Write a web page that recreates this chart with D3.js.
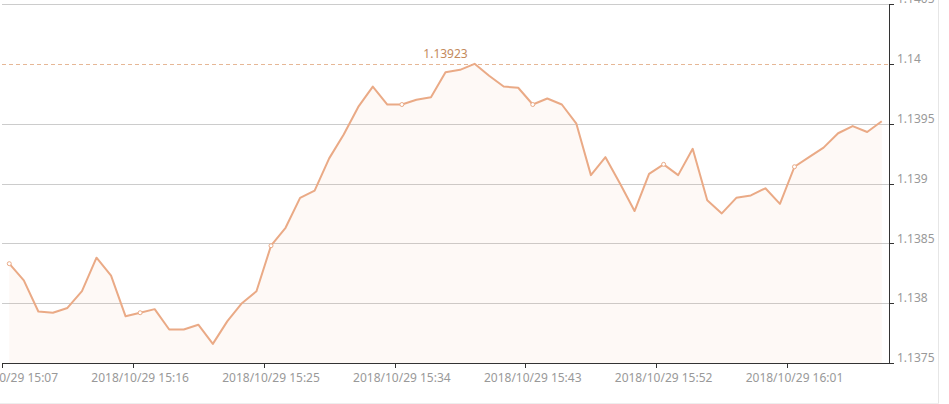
<!DOCTYPE html>
<html>
<head>
<meta charset="utf-8">
<script src="https://cdn.jsdelivr.net/npm/d3@7/dist/d3.min.js"></script>
<style>
  html, body { margin: 0; padding: 0; background: #fff; }
  svg { display: block; font-family: "Noto Sans", sans-serif; }
</style>
</head>
<body>
<svg id="chart" width="949" height="404"></svg>
<script>
const categories = [
  "2018/10/29 15:07","2018/10/29 15:08","2018/10/29 15:09","2018/10/29 15:10","2018/10/29 15:11",
  "2018/10/29 15:12","2018/10/29 15:13","2018/10/29 15:14","2018/10/29 15:15","2018/10/29 15:16",
  "2018/10/29 15:17","2018/10/29 15:18","2018/10/29 15:19","2018/10/29 15:20","2018/10/29 15:21",
  "2018/10/29 15:22","2018/10/29 15:23","2018/10/29 15:24","2018/10/29 15:25","2018/10/29 15:26",
  "2018/10/29 15:27","2018/10/29 15:28","2018/10/29 15:29","2018/10/29 15:30","2018/10/29 15:31",
  "2018/10/29 15:32","2018/10/29 15:33","2018/10/29 15:34","2018/10/29 15:35","2018/10/29 15:36",
  "2018/10/29 15:37","2018/10/29 15:38","2018/10/29 15:39","2018/10/29 15:40","2018/10/29 15:41",
  "2018/10/29 15:42","2018/10/29 15:43","2018/10/29 15:44","2018/10/29 15:45","2018/10/29 15:46",
  "2018/10/29 15:47","2018/10/29 15:48","2018/10/29 15:49","2018/10/29 15:50","2018/10/29 15:51",
  "2018/10/29 15:52","2018/10/29 15:53","2018/10/29 15:54","2018/10/29 15:55","2018/10/29 15:56",
  "2018/10/29 15:57","2018/10/29 15:58","2018/10/29 15:59","2018/10/29 16:00","2018/10/29 16:01",
  "2018/10/29 16:02","2018/10/29 16:03","2018/10/29 16:04","2018/10/29 16:05","2018/10/29 16:06",
  "2018/10/29 16:07"
];
const values = [
  1.13833, 1.13819, 1.13793, 1.13792, 1.13796, 1.13810, 1.13838, 1.13823, 1.13789, 1.13792,
  1.13795, 1.13778, 1.13778, 1.13782, 1.13766, 1.13785, 1.13800, 1.13810, 1.13848, 1.13863,
  1.13888, 1.13894, 1.13921, 1.13941, 1.13964, 1.13981, 1.13966, 1.13966, 1.13970, 1.13972,
  1.13993, 1.13995, 1.14000, 1.13990, 1.13981, 1.13980, 1.13966, 1.13971, 1.13966, 1.13950,
  1.13907, 1.13922, 1.13900, 1.13877, 1.13908, 1.13916, 1.13907, 1.13929, 1.13886, 1.13875,
  1.13888, 1.13890, 1.13896, 1.13883, 1.13914, 1.13922, 1.13930, 1.13942, 1.13948, 1.13943,
  1.13952
];
const yTicks = [1.1375, 1.138, 1.1385, 1.139, 1.1395, 1.14, 1.1405];
const yTickLabels = ["1.1375", "1.138", "1.1385", "1.139", "1.1395", "1.14", "1.1405"];
const maxLabel = "1.13923";
const labelInterval = 9;

const svg = d3.select("#chart");
const pLeft = 2, pRight = 889, pTop = 4, pBottom = 363;
const lineColor = "#eaaa86";

const x = d3.scaleBand().domain(categories).range([pLeft, pRight]).paddingInner(0).paddingOuter(0);
const y = d3.scaleLinear().domain([1.1375, 1.1405]).range([pBottom, pTop]);
const cx = d => x(d) + x.bandwidth() / 2;
const maxV = d3.max(values);

// container border
svg.append("line").attr("x1", 938.5).attr("x2", 938.5).attr("y1", 0).attr("y2", 404)
  .attr("stroke", "#e6e6e6");
svg.append("line").attr("x1", 0).attr("x2", 939).attr("y1", 403.5).attr("y2", 403.5)
  .attr("stroke", "#eeeeee");

// grid (the mark line covers the grid line it coincides with)
svg.append("g").selectAll("line")
  .data(yTicks.slice(1).filter(d => Math.abs(y(d) - y(maxV)) > 1.5)).join("line")
  .attr("x1", pLeft).attr("x2", pRight)
  .attr("y1", d => Math.round(y(d)) + 0.5).attr("y2", d => Math.round(y(d)) + 0.5)
  .attr("stroke", "#cccccc").attr("stroke-width", 1);

// area
const area = d3.area().x((d, i) => cx(categories[i])).y0(pBottom).y1(d => y(d));
svg.append("path").datum(values).attr("d", area)
  .attr("fill", lineColor).attr("fill-opacity", 0.07);

// max mark line
svg.append("line").attr("x1", pLeft).attr("x2", pRight)
  .attr("y1", Math.round(y(maxV)) + 0.5).attr("y2", Math.round(y(maxV)) + 0.5)
  .attr("stroke", "#e6b796").attr("stroke-dasharray", "4,3").attr("stroke-width", 1);
svg.append("text").attr("x", (pLeft + pRight) / 2).attr("y", y(maxV) - 6)
  .attr("text-anchor", "middle").attr("font-size", 12).attr("fill", "#c48a5c")
  .text(maxLabel);

// line
const line = d3.line().x((d, i) => cx(categories[i])).y(d => y(d));
svg.append("path").datum(values).attr("d", line)
  .attr("fill", "none").attr("stroke", lineColor).attr("stroke-width", 2)
  .attr("stroke-linejoin", "round");

// symbols
const symIdx = values.map((v, i) => i).filter(i => i % labelInterval === 0);
svg.append("g").selectAll("circle").data(symIdx).join("circle")
  .attr("cx", i => cx(categories[i])).attr("cy", i => y(values[i])).attr("r", 2)
  .attr("fill", "#fff").attr("stroke", lineColor).attr("stroke-width", 1);

// x axis
const xg = svg.append("g");
xg.append("line").attr("x1", pLeft).attr("x2", pRight).attr("y1", pBottom + 0.5).attr("y2", pBottom + 0.5)
  .attr("stroke", "#333").attr("stroke-width", 1);
xg.selectAll(".tk").data(symIdx).join("line").attr("class", "tk")
  .attr("x1", i => Math.round(x(categories[i])) + 0.5).attr("x2", i => Math.round(x(categories[i])) + 0.5)
  .attr("y1", pBottom).attr("y2", pBottom + 5).attr("stroke", "#333");
xg.selectAll(".lb").data(symIdx).join("text").attr("class", "lb")
  .attr("x", i => cx(categories[i])).attr("y", pBottom + 19)
  .attr("text-anchor", "middle").attr("font-size", 12).attr("fill", "#999")
  .text(i => categories[i]);

// y axis
const yg = svg.append("g");
yg.append("line").attr("x1", pRight + 0.5).attr("x2", pRight + 0.5).attr("y1", pTop).attr("y2", pBottom + 1)
  .attr("stroke", "#333").attr("stroke-width", 1);
yg.selectAll(".tk").data(yTicks).join("line").attr("class", "tk")
  .attr("x1", pRight).attr("x2", pRight + 5)
  .attr("y1", d => Math.round(y(d)) + 0.5).attr("y2", d => Math.round(y(d)) + 0.5)
  .attr("stroke", "#333");
yg.selectAll(".lb").data(yTicks).join("text").attr("class", "lb")
  .attr("x", pRight + 8).attr("y", d => y(d) - 5).attr("dy", "0.35em")
  .attr("font-size", 12).attr("fill", "#999")
  .text((d, i) => yTickLabels[i]);
</script>
</body>
</html>
